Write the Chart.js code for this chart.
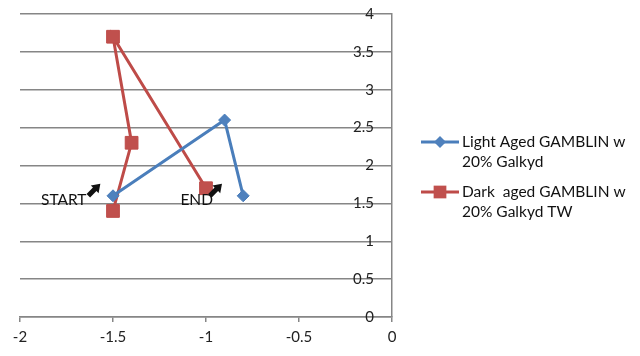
<!DOCTYPE html>
<html>
<head>
<meta charset="utf-8">
<script src="https://cdn.jsdelivr.net/npm/chart.js@4"></script>
<style>
  html, body { margin: 0; padding: 0; background: #fff; }
</style>
</head>
<body>
<canvas id="chart" width="640" height="356"></canvas>
<script>
// values
const lightX = [-1.5, -0.9, -0.8];
const lightY = [1.6, 2.6, 1.6];
const darkX = [-1.5, -1.4, -1.5, -1.0];
const darkY = [1.4, 2.3, 3.7, 1.7];
const seriesLabels = [
  ['Light Aged GAMBLIN w', '20% Galkyd'],
  ['Dark  aged GAMBLIN w', '20% Galkyd TW']
];
const xTickLabels = ['-2', '-1.5', '-1', '-0.5', '0'];
const yTickLabels = ['0', '0.5', '1', '1.5', '2', '2.5', '3', '3.5', '4'];
const notes = [
  { text: 'START', x: -1.765, y: 1.55, tipX: -1.568, tipY: 1.76 },
  { text: 'END', x: -1.05, y: 1.55, tipX: -0.914, tipY: 1.76 }
];

const blue = '#4A7EBB';
const red = '#BE4B48';
const gridColor = '#868686';
const font = 'Lato, "Open Sans", sans-serif';

function toPoints(xs, ys) {
  return xs.map((v, i) => ({ x: v, y: ys[i] }));
}

// START / END labels with little black arrows
const annotate = {
  id: 'annotate',
  afterDatasetsDraw(chart) {
    const ctx = chart.ctx;
    const sx = chart.scales.x, sy = chart.scales.y;
    ctx.save();
    notes.forEach(n => {
      ctx.fillStyle = '#111';
      ctx.font = '15.5px ' + font;
      ctx.textAlign = 'center';
      ctx.textBaseline = 'middle';
      ctx.fillText(n.text, sx.getPixelForValue(n.x), sy.getPixelForValue(n.y));
      const tx = sx.getPixelForValue(n.tipX), ty = sy.getPixelForValue(n.tipY);
      ctx.translate(tx, ty);
      ctx.rotate(-Math.PI / 4);
      ctx.beginPath();
      ctx.moveTo(0, 0);
      ctx.lineTo(-8, -5.5);
      ctx.lineTo(-8, -2.5);
      ctx.lineTo(-17, -2.5);
      ctx.lineTo(-17, 2.5);
      ctx.lineTo(-8, 2.5);
      ctx.lineTo(-8, 5.5);
      ctx.closePath();
      ctx.fill();
      ctx.setTransform(1, 0, 0, 1, 0, 0);
    });
    ctx.restore();
  }
};

// legend at the right, two-line labels
const sideLegend = {
  id: 'sideLegend',
  afterDraw(chart) {
    const ctx = chart.ctx;
    const rows = [142, 192];
    ctx.save();
    chart.data.datasets.forEach((ds, i) => {
      const y = rows[i];
      ctx.strokeStyle = ds.borderColor;
      ctx.lineWidth = 3;
      ctx.beginPath();
      ctx.moveTo(421, y);
      ctx.lineTo(459, y);
      ctx.stroke();
      ctx.fillStyle = ds.pointBackgroundColor;
      ctx.strokeStyle = ds.pointBorderColor;
      ctx.lineWidth = 1;
      Chart.helpers.drawPoint(ctx, { pointStyle: ds.pointStyle, radius: ds.pointRadius, rotation: 0 }, 440, y);
      ctx.fillStyle = '#111';
      ctx.font = '15.5px ' + font;
      ctx.textAlign = 'left';
      ctx.textBaseline = 'middle';
      seriesLabels[i].forEach((line, j) => ctx.fillText(line, 462, y + j * 20));
    });
    ctx.restore();
  }
};

new Chart('chart', {
  type: 'scatter',
  data: {
    datasets: [{
      label: seriesLabels[0].join(' '),
      data: toPoints(lightX, lightY),
      showLine: true,
      borderColor: blue,
      borderWidth: 3,
      pointStyle: 'rectRot',
      pointRadius: 6,
      pointBackgroundColor: '#4F81BD',
      pointBorderColor: blue,
      pointBorderWidth: 1
    }, {
      label: seriesLabels[1].join(' '),
      data: toPoints(darkX, darkY),
      showLine: true,
      borderColor: red,
      borderWidth: 3,
      pointStyle: 'rect',
      pointRadius: 9,
      pointBackgroundColor: '#C0504D',
      pointBorderColor: red,
      pointBorderWidth: 1
    }]
  },
  options: {
    responsive: false,
    animation: false,
    layout: { padding: { left: 20, right: 248, top: 14, bottom: 4 } },
    plugins: {
      legend: { display: false },
      tooltip: { enabled: false }
    },
    scales: {
      x: {
        type: 'linear',
        min: -2, max: 0,
        border: { color: gridColor, width: 1.5 },
        grid: { drawOnChartArea: false, color: gridColor, lineWidth: 1.5, tickLength: 5 },
        ticks: {
          stepSize: 0.5,
          color: '#222',
          font: { family: font, size: 15 },
          padding: 6,
          maxRotation: 0,
          callback: (v, i) => xTickLabels[i]
        }
      },
      y: {
        type: 'linear',
        position: 'right',
        min: 0, max: 4,
        border: { color: gridColor, width: 1.5 },
        grid: { color: gridColor, lineWidth: 1.5, tickLength: 18, tickColor: 'transparent' },
        ticks: {
          stepSize: 0.5,
          mirror: true,
          padding: -18,
          color: '#222',
          font: { family: font, size: 15 },
          callback: (v, i) => yTickLabels[i]
        }
      }
    }
  },
  plugins: [annotate, sideLegend]
});
</script>
</body>
</html>
